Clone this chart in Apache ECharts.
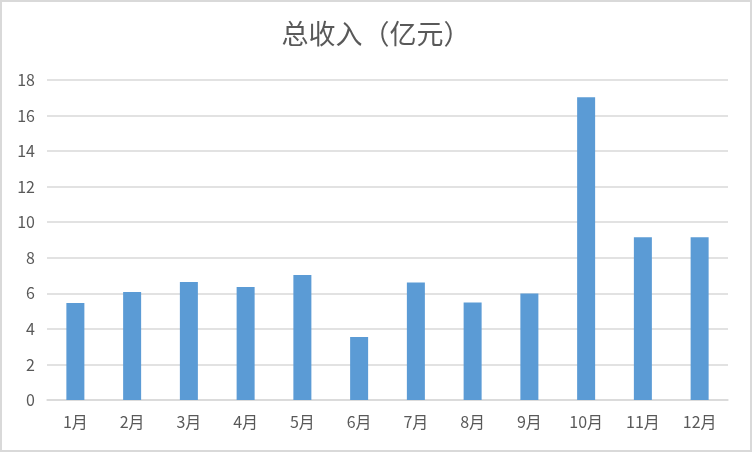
<!DOCTYPE html>
<html>
<head>
<meta charset="utf-8">
<script src="https://cdn.jsdelivr.net/npm/echarts@6/dist/echarts.min.js"></script>
<style>
html, body { margin: 0; padding: 0; background: #fff; }
#chart { width: 752px; height: 452px; }
</style>
</head>
<body>
<div id="chart"></div>
<script>
// 月份
var months = ["1月", "2月", "3月", "4月", "5月", "6月", "7月", "8月", "9月", "10月", "11月", "12月"];
// 总收入（亿元）
var income = [5.46, 6.08, 6.64, 6.36, 7.03, 3.54, 6.61, 5.48, 5.99, 17.03, 9.15, 9.15];
var yTicks = [0, 2, 4, 6, 8, 10, 12, 14, 16, 18];

var textColor = "#595959";
var lineColor = "#d9d9d9";
var font = "'Noto Sans CJK SC', 'Noto Sans', sans-serif";

var myChart = echarts.init(document.getElementById("chart"));

var option = {
  animation: false,
  textStyle: { fontFamily: font },
  title: {
    text: "总收入（亿元）",
    left: "center",
    top: 15,
    textStyle: {
      color: textColor,
      fontWeight: "normal",
      fontSize: 27,
      fontFamily: font
    }
  },
  graphic: [{
    type: "rect",
    silent: true,
    shape: { x: 1, y: 1, width: 750, height: 450 },
    style: { fill: "none", stroke: lineColor, lineWidth: 2 }
  }],
  grid: {
    left: 47,
    right: 24,
    top: 80,
    bottom: 52,
    containLabel: false
  },
  xAxis: {
    type: "category",
    data: months,
    axisLine: { show: true, lineStyle: { color: lineColor, width: 1.5 } },
    axisTick: { show: false },
    axisLabel: {
      color: textColor,
      fontSize: 16,
      margin: 14
    }
  },
  yAxis: {
    type: "value",
    min: yTicks[0],
    max: yTicks[yTicks.length - 1],
    interval: yTicks[1] - yTicks[0],
    axisLine: { show: false },
    axisTick: { show: false },
    axisLabel: {
      color: textColor,
      fontSize: 16,
      margin: 12
    },
    splitLine: { lineStyle: { color: lineColor, width: 1.5 } }
  },
  series: [{
    type: "bar",
    data: income,
    barWidth: 18,
    itemStyle: { color: "#5b9bd5" }
  }]
};

myChart.setOption(option);
</script>
</body>
</html>
